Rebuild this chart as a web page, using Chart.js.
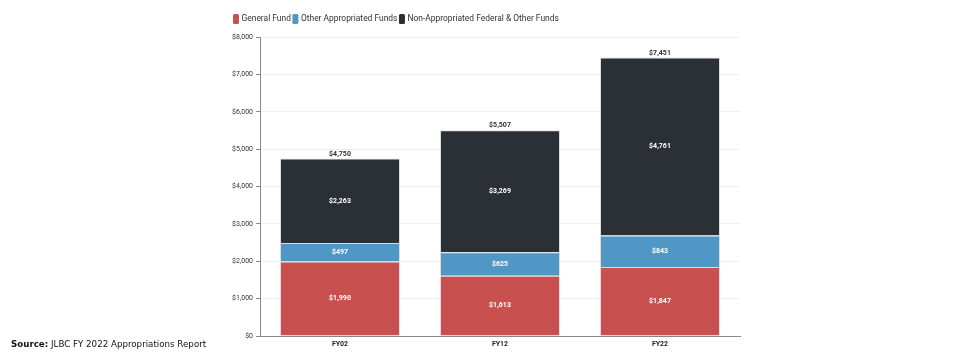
<!DOCTYPE html>
<html>
<head>
<meta charset="utf-8">
<script src="https://cdn.jsdelivr.net/npm/chart.js@4"></script>
<style>
  body { margin: 0; background: #fff; }
  #wrap { position: relative; width: 980px; height: 352px; }
  #source { position: absolute; left: 11px; top: 339px; font: 8.7px "DejaVu Sans", Verdana, sans-serif; color: #111; }
</style>
</head>
<body>
<div id="wrap">
  <canvas id="myChart" width="980" height="352"></canvas>
  <div id="source"><b>Source:</b> JLBC FY 2022 Appropriations Report</div>
</div>
<script>
var years = ["FY02", "FY12", "FY22"];
var generalFund = [1990, 1613, 1847];
var otherApprop = [497, 625, 843];
var nonApprop = [2263, 3269, 4761];
var yTicks = [0, 1000, 2000, 3000, 4000, 5000, 6000, 7000, 8000];

var fmt = function (v) { return "$" + v.toLocaleString("en-US"); };

// draws legend, segment values and totals
var labelsPlugin = {
  id: "labelsPlugin",
  afterDatasetsDraw: function (chart) {
    var ctx = chart.ctx;
    ctx.save();
    ctx.textAlign = "center";
    ctx.textBaseline = "middle";
    ctx.font = "bold 7px Roboto, sans-serif";
    ctx.fillStyle = "#fff";
    chart.data.datasets.forEach(function (ds, i) {
      chart.getDatasetMeta(i).data.forEach(function (bar, j) {
        var mid = (bar.y + bar.base) / 2;
        ctx.fillText(fmt(ds.data[j]), bar.x, mid);
      });
    });
    var last = chart.getDatasetMeta(chart.data.datasets.length - 1).data;
    ctx.fillStyle = "#333";
    ctx.textBaseline = "bottom";
    years.forEach(function (y, j) {
      var total = generalFund[j] + otherApprop[j] + nonApprop[j];
      ctx.fillText(fmt(total), last[j].x, last[j].y - 1);
    });

    // legend
    ctx.textAlign = "left";
    ctx.textBaseline = "middle";
    ctx.font = "8.45px Roboto, sans-serif";
    var x = 233, y = 19;
    chart.data.datasets.forEach(function (ds) {
      ctx.fillStyle = ds.backgroundColor;
      ctx.beginPath();
      ctx.roundRect(x, y - 5, 6, 10, 1.5);
      ctx.fill();
      x += 8.5;
      ctx.fillStyle = "#333";
      ctx.fillText(ds.label, x, y);
      x += ctx.measureText(ds.label).width + 1.5;
    });
    ctx.restore();
  }
};

new Chart("myChart", {
  type: "bar",
  data: {
    labels: years,
    datasets: [
      { label: "General Fund", data: generalFund, backgroundColor: "#c85150" },
      { label: "Other Appropriated Funds", data: otherApprop, backgroundColor: "#4f98c5" },
      { label: "Non-Appropriated Federal & Other Funds", data: nonApprop, backgroundColor: "#2b2f36" }
    ].map(function (d) {
      d.borderColor = "#dcdcdc";
      d.borderWidth = 1;
      d.categoryPercentage = 0.75;
      d.barPercentage = 1;
      return d;
    })
  },
  options: {
    responsive: false,
    animation: false,
    layout: { padding: { left: 220, right: 240, top: 37, bottom: 0 } },
    plugins: { legend: { display: false }, tooltip: { enabled: false } },
    scales: {
      x: {
        stacked: true,
        grid: { display: false, drawTicks: true, tickLength: 3 },
        border: { color: "#888" },
        ticks: { color: "#222", font: { size: 7, weight: "bold", family: "Roboto, sans-serif" }, padding: 1 },
        afterFit: function (s) { s.height = 16; }
      },
      y: {
        stacked: true,
        min: 0,
        max: 8000,
        afterBuildTicks: function (s) { s.ticks = yTicks.map(function (v) { return { value: v }; }); },
        grid: { color: "#f0f0f0", tickColor: "#888", tickLength: 4 },
        border: { color: "#888" },
        ticks: {
          color: "#333",
          font: { size: 7, family: "Roboto, sans-serif" },
          padding: 3,
          callback: function (v) { return fmt(v); }
        },
        afterFit: function (s) { s.width = 40; }
      }
    }
  },
  plugins: [labelsPlugin]
});
</script>
</body>
</html>
